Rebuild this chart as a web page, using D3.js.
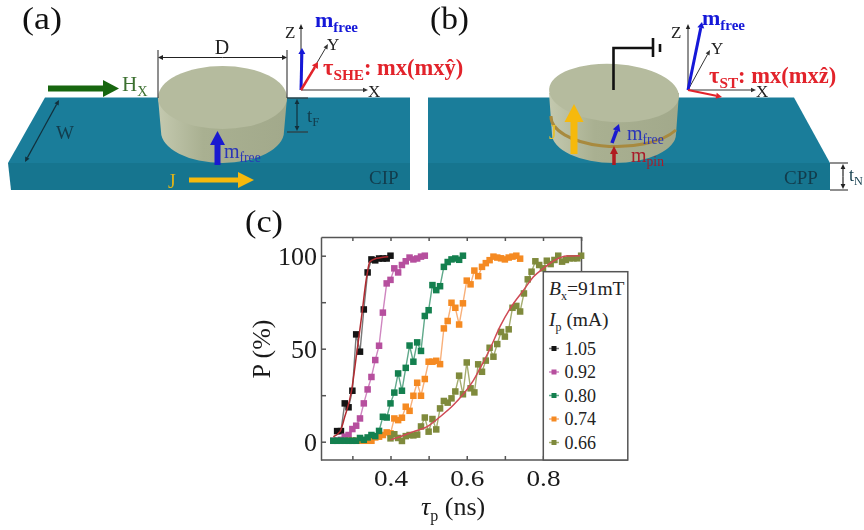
<!DOCTYPE html>
<html><head><meta charset="utf-8">
<script src="https://cdn.jsdelivr.net/npm/d3@7/dist/d3.min.js"></script>
<style>html,body{margin:0;background:#fff}svg{display:block;filter:blur(0.5px)}text{font-family:"Liberation Serif",serif}</style>
</head><body><svg id="c" width="864" height="530"></svg>
<script>
// ---------- chart data ----------
const legendLabels = ["1.05","0.92","0.80","0.74","0.66"];
const tau105 = d3.range(26,41).map(d=>d/100);
const p105 = [5.7,5.7,20.6,18.5,27.4,57.7,48.4,71.1,91,98,97.5,98.5,98.5,98.5,100];
const tau092 = d3.range(25,50).map(d=>d/100);
const p092 = [0.5,0.5,1,2.7,3.6,6.8,8.6,12.5,20.6,28.1,34.8,43.9,51.6,69.4,85.1,87,93.2,91,95,97,99,98,98.5,99.5,100];
const tau080 = d3.range(25,60).map(d=>d/100);
const p080 = [0.5,0.5,0.5,0.5,0.5,0.5,0.5,2,1,2.3,3.6,3,5.8,13.4,13,20.6,26.4,36.7,27.4,39.7,51.7,43,53.4,48.8,67.6,70.7,84.2,81.5,83.6,94,96.6,98,98.5,97.8,100];
const tau074 = d3.range(29,75).map(d=>d/100);
const p074 = [0.5,0.5,0.5,0.5,0.5,0.5,0.5,2.3,2.7,3.6,5,4.5,12.5,11.6,12.9,18.8,16.6,24.7,31.7,24.7,33.7,43,43,43.5,41.7,60.9,64.9,74.7,72,63,74.4,86.6,84.6,92,89,94,96,97.6,99.5,99,98.6,98,99,99.5,100,98.4];
const tau066 = d3.range(40,91).map(d=>d/100);
const p066 = [1.8,4,2,0.4,3,3.6,3.4,3.8,8.2,13,5.4,12.2,6.6,17.9,21.9,21,23.3,27,35.5,25.5,42.6,28.7,26.5,41.6,37.6,43.6,50.5,45.7,52.5,59,56.5,60.4,72,73,70,79.7,87.3,91.4,97,95,93.2,97.3,95.5,97.7,100,96.8,97.7,98.6,98.6,98.6,100];
const fit105x = [.25,.2675,.28,.298,.311,.324,.3375,.346,.364,.394];
const fit105y = [2.7,5.4,13.4,27.6,47,67,88.7,96.8,98.6,99.5];
const fit066x = [.40,.425,.46,.495,.53,.565,.591,.6175,.644,.661,.6875,.714,.749,.775,.801,.832,.862,.897];
const fit066y = [1,2.7,5.4,8,13.4,19.7,25.6,33,43,50,62,71.7,81.5,88.7,93.2,97.7,99.8,100];
const xTickValues = [.3,.4,.5,.6,.7,.8,.9];
const xTickLabels = {0.4:"0.4",0.6:"0.6",0.8:"0.8"};
const yTickValues = [0,25,50,75,100];
const yTickLabels = {0:"0",50:"50",100:"100"};

// ---------- styles ----------
const seriesStyle = [
 {x:tau105,y:p105,m:"#141414",l:"#777777"},
 {x:tau092,y:p092,m:"#b64f9e",l:"#cf86c0"},
 {x:tau074,y:p074,m:"#f58a22",l:"#f8b07a"},
 {x:tau080,y:p080,m:"#14804f",l:"#5fa98a"},
 {x:tau066,y:p066,m:"#7f8a3c",l:"#a5ad70"}];
const legendOrder = [0,1,3,2,4];

const svg = d3.select("#c");
const INK="#111", AX="#555", TEAL="#1a7d9a", TEALD="#16758f", DISC="#b5bb9e";
const BLUE="#1518d8", RED="#e2232b", YEL="#f6b90c", GRN="#17660f", TXT="#123c4c";
const defs = svg.append("defs");
const gr = defs.append("linearGradient").attr("id","side");
[[0,"#c4c9af"],[.35,"#a9b091"],[1,"#a2a98b"]].forEach(s=>gr.append("stop").attr("offset",s[0]).attr("stop-color",s[1]));
const poly = d3.line();

// helpers for the schematic
function arrow(g,x1,y1,x2,y2,col,w,hl,hw){
  const a=Math.atan2(y2-y1,x2-x1), c=Math.cos(a), s=Math.sin(a);
  const bx=x2-hl*c, by=y2-hl*s;
  g.append("line").attr("x1",x1).attr("y1",y1).attr("x2",bx).attr("y2",by).attr("stroke",col).attr("stroke-width",w);
  g.append("path").attr("d",poly([[x2,y2],[bx-hw*s,by+hw*c],[bx+hw*s,by-hw*c]])+"Z").attr("fill",col);
}
function dbl(g,x1,y1,x2,y2,col){ arrow(g,(x1+x2)/2,(y1+y2)/2,x1,y1,col,1.2,5,2.4); arrow(g,(x1+x2)/2,(y1+y2)/2,x2,y2,col,1.2,5,2.4); }
function lbl(g,x,y,parts,opt={}){
  const t=g.append("text").attr("x",x).attr("y",y).attr("font-size",opt.size||20).attr("fill",opt.fill||INK)
    .attr("font-weight",opt.bold?"bold":null).attr("text-anchor",opt.anchor||"start");
  if(opt.len) t.attr("textLength",opt.len).attr("lengthAdjust","spacingAndGlyphs");
  let d=0;
  parts.forEach(p=>{
    const sub=Array.isArray(p);
    const s=t.append("tspan").text(sub?p[0]:p);
    if(sub){ d=opt.subdy||5; s.attr("font-size",(opt.size||20)*.68).attr("dy",d);} 
    else if(d){ s.attr("dy",-d); d=0; }
  });
  return t;
}
function slab(g,topFace,front){
  g.append("path").attr("d",poly(topFace)+"Z").attr("fill",TEAL);
  g.append("path").attr("d",poly(front)+"Z").attr("fill",TEALD);
}
function disc(g,cx,cy,rx,ry,h,rot){
  g.append("path").attr("d",`M${cx-rx},${cy} L${cx-rx+3},${cy+h} A${rx-3},${ry} 0 0 0 ${cx+rx-3},${cy+h} L${cx+rx},${cy} Z`).attr("fill","url(#side)");
  g.append("ellipse").attr("cx",cx).attr("cy",cy).attr("rx",rx).attr("ry",ry).attr("fill",DISC)
    .attr("transform",`rotate(${rot} ${cx} ${cy})`);
}
function axesTriad(g,ox,oy,zy,yx,yy,xx){
  arrow(g,ox,oy,ox,zy,"#222",1,5,2.2);
  arrow(g,ox,oy,yx,yy,"#333",1,5,2.2);
  arrow(g,ox,oy,xx,oy,"#333",1,5,2.2);
}

// ---------- panel (a) ----------
const A = svg.append("g");
lbl(A,22,29,["(a)"],{size:31,len:40});
slab(A,[[45,97.5],[410,97.5],[410,163],[8,163]],[[8,163],[410,163],[410,190],[11,190]]);
disc(A,222.5,97.5,64.5,31.5,34,0);
[[158,50,158,98],[287,50,287,98],[287,98,308,98],[287,132,308,132]].forEach(l=>
  A.append("line").attr("x1",l[0]).attr("y1",l[1]).attr("x2",l[2]).attr("y2",l[3]).attr("stroke","#333").attr("stroke-width",1.1));
dbl(A,158,57.5,287,57.5,"#222");
lbl(A,222,54,["D"],{anchor:"middle",fill:"#222"});
arrow(A,48,88.5,119,88.5,GRN,6,16,8.5);
lbl(A,122,91,["H",["X"]],{fill:"#3c7030",size:21});
dbl(A,59,100,25,162,"#12303c");
lbl(A,56,139,["W"],{fill:TXT,size:19});
dbl(A,297,99,297,131,"#12303c");
lbl(A,307,122,["t",["F"]],{fill:TXT,size:19,subdy:4});
arrow(A,217.5,165,217.5,131,"#1a1ad0",6,14,7.5);
lbl(A,224,158,["m",["free"]],{fill:"#2a35b8",size:20,subdy:4});
lbl(A,168,188,["J"],{fill:"#d8b21c",size:20});
arrow(A,189,180,254,180,YEL,5,16,8);
lbl(A,369,184,["CIP"],{fill:TXT,size:19});
axesTriad(A,301,90,24,328,44,368);
arrow(A,301,90,302,48,BLUE,3,6,3.5);
arrow(A,301,90,318,62,RED,2.5,6,3.5);
lbl(A,285,38,["Z"],{fill:"#222",size:17});
lbl(A,327,50,["Y"],{fill:"#222",size:17});
lbl(A,368,97,["X"],{fill:"#222",size:17});
lbl(A,315,27,["m",["free"]],{fill:BLUE,size:22,bold:true});
lbl(A,323,75,["τ",["SHE"],": mx(mxŷ)"],{fill:RED,size:22.5,bold:true});

// ---------- panel (b) ----------
const B = svg.append("g");
lbl(B,430,29,["(b)"],{size:31,len:39});
slab(B,[[428,97.5],[794,97.5],[830,163],[428,163]],[[428,163],[830,163],[830,190],[428,190]]);
disc(B,614,93,65,29,41,3.5);
B.append("path").attr("d","M551,116 A66,30 0 0 0 676,130").attr("fill","none").attr("stroke","#a88a3e").attr("stroke-width",3);
B.append("path").attr("d",poly([[613.5,90],[613.5,48],[653,48]])).attr("fill","none").attr("stroke","#111").attr("stroke-width",2.6);
[[653,38,653,57,2.6],[660,44,660,52,2.6]].forEach(l=>
  B.append("line").attr("x1",l[0]).attr("y1",l[1]).attr("x2",l[2]).attr("y2",l[3]).attr("stroke","#111").attr("stroke-width",l[4]));
arrow(B,574,154,574,104,YEL,7,18,9.5);
lbl(B,549,139,["J"],{fill:"#e6c030",size:20});
arrow(B,612,143,619,124,"#1a1ad0",3.5,7,4);
lbl(B,627,140,["m",["free"]],{fill:"#2a35b8",size:20,subdy:4});
arrow(B,614,165,614,146,"#b01a1f",3.5,8,4);
lbl(B,631,162,["m",["pin"]],{fill:"#a81c2a",size:20,subdy:4});
axesTriad(B,688,90,24,710,50,756);
arrow(B,688,90,702,22,BLUE,3,6,3.5);
arrow(B,688,90,722,97,RED,2.2,6,3);
lbl(B,671,38,["Z"],{fill:"#222",size:17});
lbl(B,711,54,["Y"],{fill:"#222",size:17});
lbl(B,756,97,["X"],{fill:"#222",size:17});
lbl(B,702,25,["m",["free"]],{fill:BLUE,size:22,bold:true});
lbl(B,709,83,["τ",["ST"],": mx(mxẑ)"],{fill:RED,size:22.5,bold:true});
lbl(B,784,184,["CPP"],{fill:TXT,size:19});
[[830,163,848,163],[830,190,848,190]].forEach(l=>
  B.append("line").attr("x1",l[0]).attr("y1",l[1]).attr("x2",l[2]).attr("y2",l[3]).attr("stroke","#333").attr("stroke-width",1.1));
dbl(B,843,164,843,189,"#222");
lbl(B,849,181,["t",["N"]],{fill:TXT,size:18,subdy:4});

// ---------- panel (c) ----------
const C = svg.append("g");
lbl(C,245,232,["(c)"],{size:32,len:38});
const x = d3.scaleLinear().domain([.4,.8]).range([390.5,543]);
const y = d3.scaleLinear().domain([0,100]).range([441.7,255.7]);
const xs=d3.scaleLinear().domain([x.invert(321),x.invert(581.5)]).range([321,581.5]);
const ys=d3.scaleLinear().domain([y.invert(460),y.invert(237)]).range([460,237]);

const styleAxis = g=>{g.selectAll("path,line").attr("stroke",AX).attr("stroke-width",1.5);g.selectAll("text").attr("fill","#1a1a1a").attr("font-size",26).attr("font-family","Liberation Serif");};
C.append("g").attr("transform","translate(0,460)")
 .call(d3.axisBottom(xs).tickValues(xTickValues).tickSizeOuter(0).tickSizeInner(-4).tickPadding(10).tickFormat(d=>xTickLabels[d]||"")).call(styleAxis)
 .call(g=>g.select(".domain").attr("d","M321,0H628"))
 .call(g=>g.selectAll("text").attr("font-size",23).filter(function(){return this.textContent;}).attr("textLength",34).attr("lengthAdjust","spacingAndGlyphs"))
 .call(g=>g.selectAll("text").filter(function(){return !this.textContent;}).remove());
C.append("g").attr("transform","translate(0,237)")
 .call(d3.axisTop(xs).tickValues(xTickValues).tickSizeOuter(0).tickSizeInner(-4).tickFormat("")).call(styleAxis);
C.append("g").attr("transform","translate(321,0)")
 .call(d3.axisLeft(ys).tickValues(yTickValues).tickSizeOuter(0).tickSizeInner(-5).tickPadding(4).tickFormat(d=>yTickLabels[d]||"")).call(styleAxis);
C.append("line").attr("x1",581.5).attr("x2",581.5).attr("y1",237).attr("y2",272).attr("stroke",AX).attr("stroke-width",1.5);

const ln = d3.line().x(d=>xs(d[0])).y(d=>ys(d[1]));
const curve = d3.line().x(d=>xs(d[0])).y(d=>ys(d[1])).curve(d3.curveMonotoneX);
seriesStyle.forEach(s=>{
  const pts=d3.zip(s.x,s.y);
  C.append("path").attr("d",ln(pts)).attr("fill","none").attr("stroke",s.l).attr("stroke-width",1.4);
  C.selectAll(null).data(pts).join("rect").attr("x",d=>xs(d[0])-3.25).attr("y",d=>ys(d[1])-3.25)
    .attr("width",6.5).attr("height",6.5).attr("fill",s.m);
});
C.append("path").attr("d",curve(d3.zip(fit105x,fit105y))).attr("fill","none").attr("stroke","#b02a30").attr("stroke-width",1.5);
C.append("path").attr("d",curve(d3.zip(fit066x,fit066y))).attr("fill","none").attr("stroke","#cf4a55").attr("stroke-width",1.5);

// legend box
C.append("rect").attr("x",543.3).attr("y",271.7).attr("width",84.5).attr("height",188.3).attr("fill","#fff").attr("stroke",AX).attr("stroke-width",1.5);
const bT=C.append("text").attr("x",549).attr("y",295).attr("font-size",19.5).attr("fill","#222");
bT.append("tspan").attr("font-style","italic").text("B");
bT.append("tspan").attr("font-size",12).attr("dy",5).text("x");
bT.append("tspan").attr("dy",-5).text("=91mT");
const iT=C.append("text").attr("x",549).attr("y",326).attr("font-size",19.5).attr("fill","#222");
iT.append("tspan").attr("font-style","italic").text("I");
iT.append("tspan").attr("font-size",12).attr("dy",5).text("p");
iT.append("tspan").attr("dy",-5).text(" (mA)");
const ly=d3.scalePoint().domain(legendLabels).range([348.5,442.5]);
legendLabels.forEach((t,i)=>{
  const s=seriesStyle[legendOrder[i]], c=ly(t);
  C.append("line").attr("x1",549).attr("x2",559).attr("y1",c).attr("y2",c).attr("stroke",s.l).attr("stroke-width",1.5);
  C.append("rect").attr("x",551.5).attr("y",c-2.5).attr("width",5).attr("height",5).attr("fill",s.m);
  C.append("text").attr("x",564.5).attr("y",c+6).attr("font-size",18).attr("fill","#222").text(t);
});

// axis titles
C.append("text").attr("transform","translate(270,349) rotate(-90)").attr("text-anchor","middle").attr("font-size",26).attr("fill","#1a1a1a").text("P (%)");
const xT=C.append("text").attr("x",421).attr("y",515).attr("font-size",26).attr("fill","#1a1a1a");
xT.append("tspan").attr("font-style","italic").text("τ");
xT.append("tspan").attr("font-size",16).attr("dy",6).text("p");
xT.append("tspan").attr("dy",-6).text(" (ns)");
</script></body></html>
